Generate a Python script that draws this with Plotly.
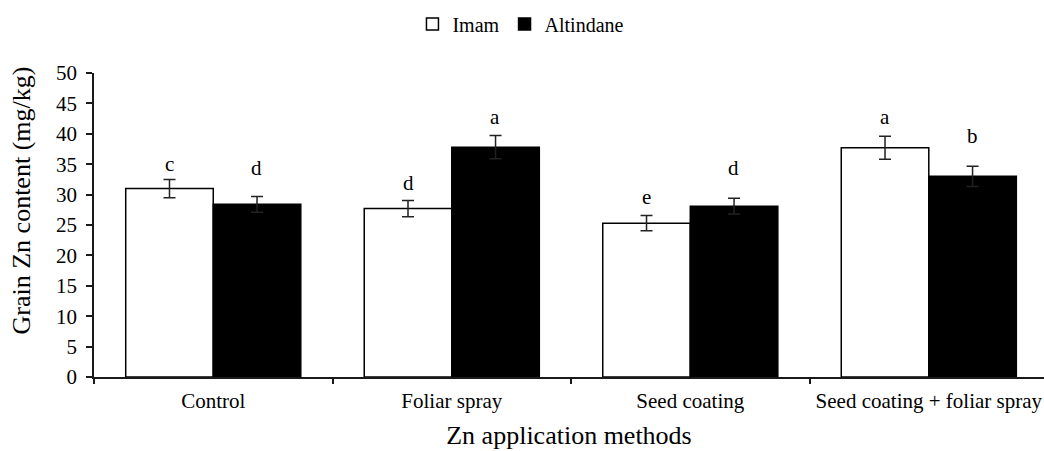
import plotly.graph_objects as go

# Grain Zn content by Zn application method for two wheat cultivars
methods = ["Control", "Foliar spray", "Seed coating", "Seed coating + foliar spray"]
imam_mean = [31.0, 27.7, 25.3, 37.7]
imam_se = [1.5, 1.35, 1.25, 1.9]
altindane_mean = [28.4, 37.8, 28.1, 33.0]
altindane_se = [1.3, 1.9, 1.3, 1.65]
imam_letters = ["c", "d", "e", "a"]
altindane_letters = ["d", "a", "d", "b"]

FONT = "Liberation Serif"
AXIS_COLOR = "#1a1a1a"

fig = go.Figure()
fig.add_trace(go.Bar(
    name="Imam", x=methods, y=imam_mean,
    marker=dict(color="white", line=dict(color="black", width=1.5)),
    error_y=dict(type="data", array=imam_se, visible=True,
                 color="#222222", thickness=1.5, width=6),
))
fig.add_trace(go.Bar(
    name="Altindane", x=methods, y=altindane_mean,
    marker=dict(color="black", line=dict(color="black", width=1.5)),
    error_y=dict(type="data", array=altindane_se, visible=True,
                 color="#222222", thickness=1.5, width=6),
))

# significance letters above the error bars (pixel lift per letter)
lift_imam = [7, 9, 11, 11]
lift_alt = [20, 11, 22, 22]
for i, m in enumerate(methods):
    for mean, se, letters, lifts, side in (
        (imam_mean, imam_se, imam_letters, lift_imam, -1),
        (altindane_mean, altindane_se, altindane_letters, lift_alt, 1),
    ):
        fig.add_annotation(
            x=m, y=mean[i] + se[i], text=letters[i], showarrow=False,
            xshift=side * 43.7, yanchor="bottom", yshift=lifts[i] - 6,
            font=dict(family=FONT, size=21, color="black"),
        )

# y-axis title placed as free text
fig.add_annotation(
    text="Grain Zn content (mg/kg)", textangle=-90, showarrow=False,
    xref="paper", yref="paper", x=-0.076, y=0.58, xanchor="center", yanchor="middle",
    font=dict(family=FONT, size=26, color="black"),
)

fig.update_layout(
    width=1044, height=451,
    margin=dict(l=94, r=0, t=73, b=74),
    paper_bgcolor="white", plot_bgcolor="white",
    barmode="group", bargap=0.266, bargroupgap=0,
    font=dict(family=FONT, size=21, color="black"),
    legend=dict(
        orientation="h", xref="container", yref="container",
        x=0.499, y=0.947, xanchor="center", yanchor="middle",
        font=dict(family=FONT, size=20, color="black"),
        itemwidth=30, tracegroupgap=0,
    ),
    showlegend=True,
)
fig.update_xaxes(
    type="category", range=[-0.5, 3.483],
    showline=True, linecolor=AXIS_COLOR, linewidth=1.5,
    ticks="outside", tickson="boundaries", ticklen=5, tickcolor=AXIS_COLOR, tickwidth=1.5,
    ticklabelstandoff=4,
    tickfont=dict(family=FONT, size=21, color="black"),
    title=dict(text="Zn application methods", font=dict(family=FONT, size=26, color="black"),
               standoff=14),
    showgrid=False, zeroline=False,
)
fig.update_yaxes(
    range=[0, 50], dtick=5, tick0=0,
    showline=True, linecolor=AXIS_COLOR, linewidth=1.5,
    ticks="outside", ticklen=6, tickcolor=AXIS_COLOR, tickwidth=1.5,
    ticklabelstandoff=5,
    tickfont=dict(family=FONT, size=21, color="black"),
    showgrid=False, zeroline=False,
)

fig.write_html("out.html")
